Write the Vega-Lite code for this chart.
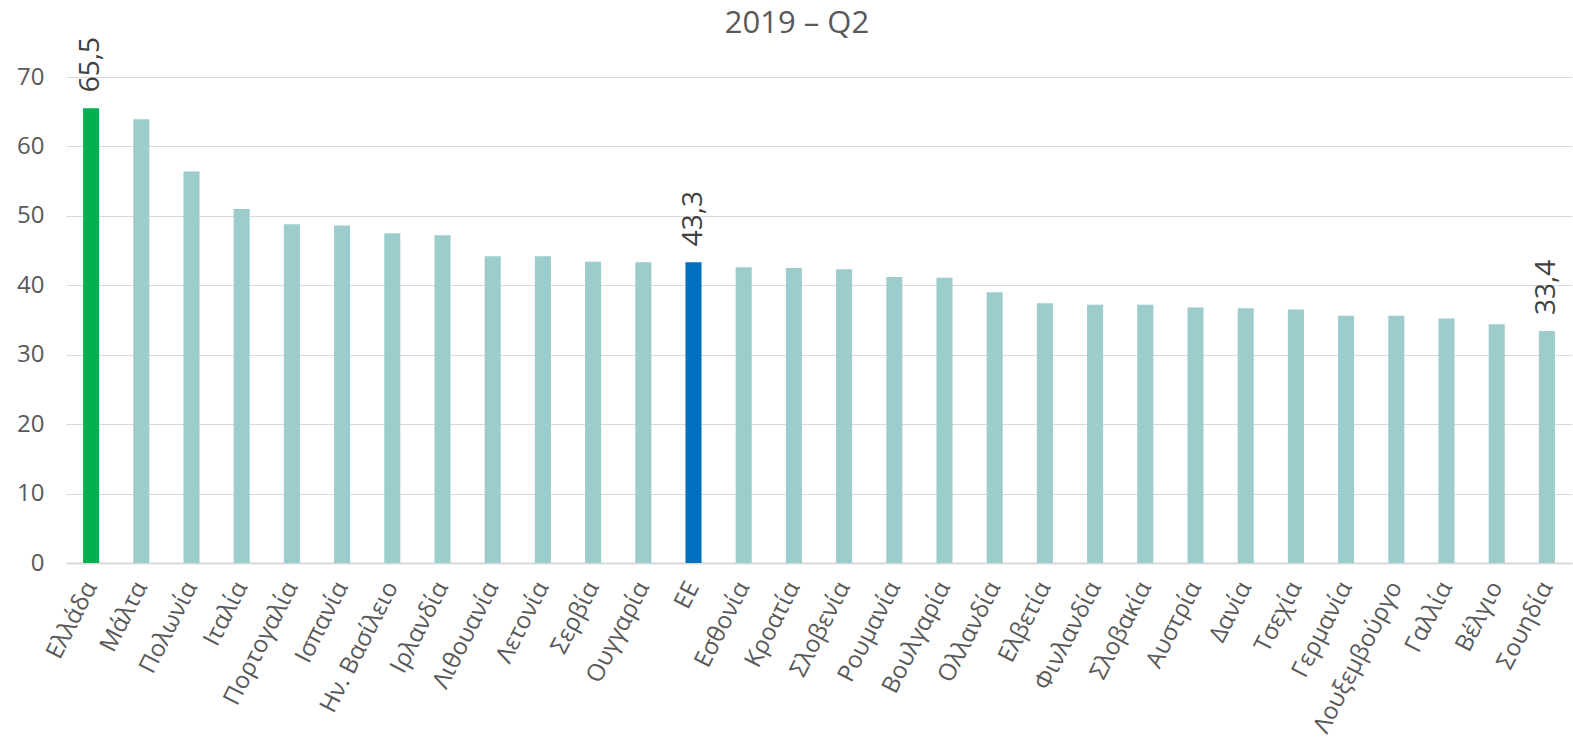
{
  "$schema": "https://vega.github.io/schema/vega-lite/v6.json",
  "width": 1506,
  "height": 486,
  "autosize": {"type": "none"},
  "padding": {"left": 66, "top": 77, "right": 1, "bottom": 181},
  "background": "#ffffff",
  "config": {
    "view": {"stroke": null},
    "locale": {"number": {"decimal": ",", "thousands": ".", "grouping": [3], "currency": ["", " €"]}}
  },
  "title": {
    "text": "2019 – Q2",
    "font": "Open Sans",
    "fontSize": 31,
    "fontWeight": "normal",
    "color": "#595959",
    "anchor": "middle",
    "frame": "group",
    "offset": -3,
    "dx": -22
  },
  "data": {
    "values": [
      {"country": "Ελλάδα", "value": 65.5},
      {"country": "Μάλτα", "value": 63.9},
      {"country": "Πολωνία", "value": 56.4},
      {"country": "Ιταλία", "value": 51.0},
      {"country": "Πορτογαλία", "value": 48.8},
      {"country": "Ισπανία", "value": 48.6},
      {"country": "Ην. Βασίλειο", "value": 47.5},
      {"country": "Ιρλανδία", "value": 47.2},
      {"country": "Λιθουανία", "value": 44.2},
      {"country": "Λετονία", "value": 44.2},
      {"country": "Σερβία", "value": 43.4},
      {"country": "Ουγγαρία", "value": 43.3},
      {"country": "ΕΕ", "value": 43.3},
      {"country": "Εσθονία", "value": 42.6},
      {"country": "Κροατία", "value": 42.5},
      {"country": "Σλοβενία", "value": 42.3},
      {"country": "Ρουμανία", "value": 41.2},
      {"country": "Βουλγαρία", "value": 41.1},
      {"country": "Ολλανδία", "value": 39.0},
      {"country": "Ελβετία", "value": 37.4},
      {"country": "Φινλανδία", "value": 37.2},
      {"country": "Σλοβακία", "value": 37.2},
      {"country": "Αυστρία", "value": 36.8},
      {"country": "Δανία", "value": 36.7},
      {"country": "Τσεχία", "value": 36.5},
      {"country": "Γερμανία", "value": 35.6},
      {"country": "Λουξεμβούργο", "value": 35.6},
      {"country": "Γαλλία", "value": 35.2},
      {"country": "Βέλγιο", "value": 34.4},
      {"country": "Σουηδία", "value": 33.4}
    ]
  },
  "encoding": {
    "x": {
      "field": "country",
      "type": "nominal",
      "sort": null,
      "scale": {"paddingInner": 0.68, "paddingOuter": 0.34},
      "axis": {
        "title": null,
        "labelAngle": -63,
        "labelAlign": "right",
        "labelBaseline": "middle",
        "labelFont": "Open Sans",
        "labelFontSize": 24,
        "labelColor": "#595959",
        "labelPadding": 20,
        "ticks": false,
        "domainColor": "#d9d9d9",
        "domainWidth": 2,
        "labelOverlap": false
      }
    },
    "y": {
      "field": "value",
      "type": "quantitative",
      "scale": {"domain": [0, 70], "nice": false},
      "axis": {
        "title": null,
        "values": [0, 10, 20, 30, 40, 50, 60, 70],
        "format": "d",
        "labelFont": "Open Sans",
        "labelFontSize": 24,
        "labelColor": "#595959",
        "labelPadding": 22,
        "ticks": false,
        "domain": false,
        "gridColor": "#d9d9d9",
        "gridWidth": 1.2
      }
    }
  },
  "layer": [
    {
      "mark": {"type": "bar"},
      "encoding": {
        "color": {
          "condition": [
            {"test": "datum.country === 'Ελλάδα'", "value": "#00b050"},
            {"test": "datum.country === 'ΕΕ'", "value": "#0070c0"}
          ],
          "value": "#9ccccc"
        }
      }
    },
    {
      "transform": [
        {"filter": "datum.country === 'Ελλάδα' || datum.country === 'ΕΕ' || datum.country === 'Σουηδία'"}
      ],
      "mark": {
        "type": "text",
        "angle": 270,
        "align": "left",
        "baseline": "middle",
        "dx": 16,
        "font": "Open Sans",
        "fontSize": 28,
        "color": "#404040"
      },
      "encoding": {
        "text": {"field": "value", "type": "quantitative", "format": ".1f"}
      }
    }
  ]
}
